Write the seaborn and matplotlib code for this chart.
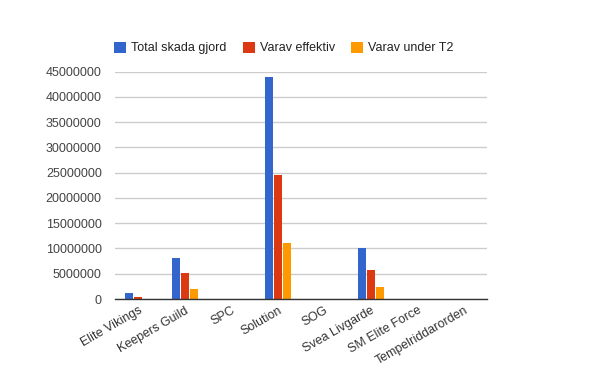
import matplotlib
matplotlib.use("Agg")
import matplotlib.pyplot as plt
import seaborn as sns
import pandas as pd

categories = ["Elite Vikings", "Keepers Guild", "SPC", "Solution", "SOG",
              "Svea Livgarde", "SM Elite Force", "Tempelriddarorden"]
total_skada = [1200000, 8150000, 0, 44000000, 0, 10100000, 0, 0]
varav_effektiv = [400000, 5150000, 0, 24600000, 0, 5750000, 0, 0]
varav_t2 = [0, 2000000, 0, 11100000, 0, 2400000, 0, 0]
series_names = ["Total skada gjord", "Varav effektiv", "Varav under T2"]
colors = ["#3366CC", "#DC3912", "#FF9900"]
yticks = list(range(0, 45000001, 5000000))

rows = []
for name, vals in zip(series_names, [total_skada, varav_effektiv, varav_t2]):
    for c, v in zip(categories, vals):
        rows.append({"cat": c, "series": name, "value": v})
df = pd.DataFrame(rows)

sns.set_theme(style="white")
plt.rcParams["font.family"] = ["Liberation Sans", "DejaVu Sans"]

fig = plt.figure(figsize=(6, 3.71), dpi=100)
ax = fig.add_axes([115/600, (371-299)/371, (487-115)/600, (299-71.5)/371])

sns.barplot(data=df, x="cat", y="value", hue="series", order=categories,
            hue_order=series_names, palette=colors, width=0.58, gap=0.12,
            saturation=1, ax=ax, legend=True, edgecolor="none", linewidth=0)

ax.set_ylim(0, 45000000)
ax.set_yticks(yticks)
ax.set_yticklabels([str(t) for t in yticks], fontsize=9.0, color="#444444")
ax.yaxis.grid(True, color="#CCCCCC", linewidth=1)
ax.set_axisbelow(True)
for s in ["left", "right", "top"]:
    ax.spines[s].set_visible(False)
ax.spines["bottom"].set_color("#333333")
ax.spines["bottom"].set_linewidth(1)
ax.tick_params(axis="y", length=0, pad=9.5)
ax.set_xlabel("")
ax.set_ylabel("")
ax.set_xticks(range(len(categories)))
ax.set_xticklabels(categories, rotation=30, ha="right", rotation_mode="anchor",
                   fontsize=9.0, color="#333333")
ax.tick_params(axis="x", length=0, pad=4)

handles, labels = ax.get_legend_handles_labels()
ax.legend(handles, labels, loc="lower left", bbox_to_anchor=(-0.002, 1.075),
          ncol=3, frameon=False, fontsize=9.0, handlelength=0.95,
          handleheight=0.95, handletextpad=0.4, columnspacing=1.3,
          borderaxespad=0, borderpad=0, labelcolor="#222222")

fig.savefig("out.png", dpi=100)
